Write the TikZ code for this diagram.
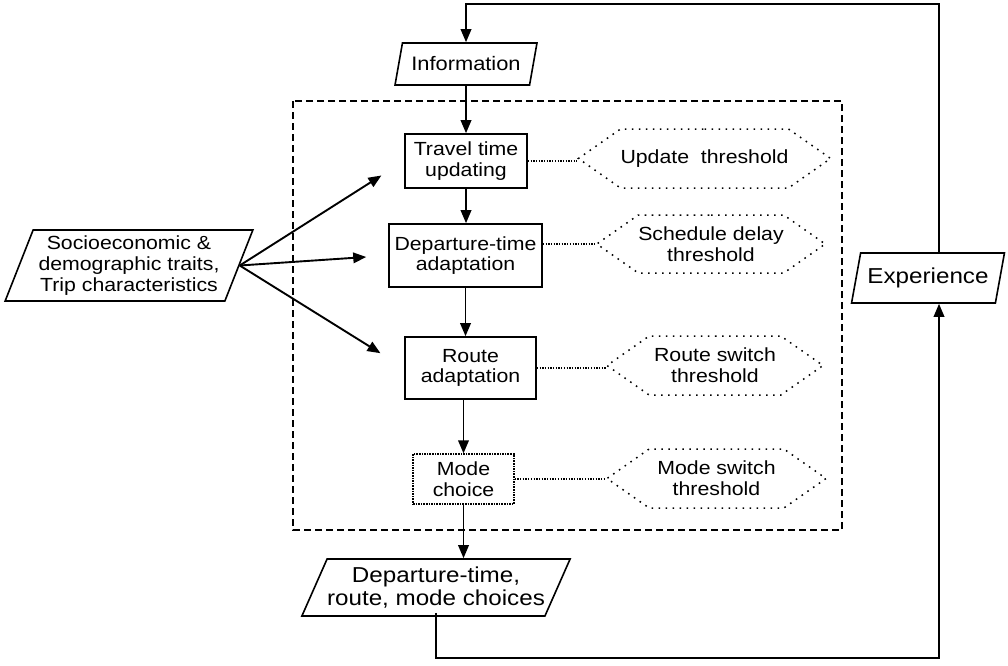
\documentclass[tikz,border=0pt]{standalone}
\usepackage{fontspec}
\setmainfont{Liberation Sans}[FakeStretch=1.12]
\usetikzlibrary{arrows.meta,shapes.geometric,shapes.symbols}
\begin{document}
\begin{tikzpicture}[x=1pt,y=-1pt,
  small/.style={font=\fontsize{19}{20.8}\selectfont},
  large/.style={font=\fontsize{21.6}{23.5}\selectfont},
  stepbox/.style={draw, line width=1.6pt, align=center, small, inner sep=0pt},
  para/.style={draw, line width=1.6pt, trapezium, trapezium stretches=true,
    align=center, inner sep=0pt},
  thresh/.style={signal, signal to=west and east, signal pointer angle=70,
    draw, line width=1.5pt, dash pattern=on 1.6pt off 5.4pt, align=center,
    small, inner sep=0pt},
  link/.style={line width=1.6pt, dash pattern=on 1.3pt off 1.4pt},
  arr/.style={line width=1.9pt, -{Triangle[length=13pt,width=10.5pt]}},
]
\useasboundingbox (0,0) rectangle (1008,665);

% dashed frame round the adaptation steps
\draw[line width=1.5pt, dash pattern=on 7pt off 4pt] (293,101) rectangle (842,530);

% input / output parallelograms
\node[para, small, trapezium left angle=66, trapezium right angle=114,
  minimum width=142, minimum height=42, font=\fontsize{19.5}{21}\selectfont]
  (info) at (466,64) {Information};
\node[para, small, trapezium left angle=66, trapezium right angle=114,
  minimum width=248, minimum height=71] (socio) at (129,265.5)
  {Socioeconomic \&\\demographic traits,\\Trip characteristics};
\node[para, large, trapezium left angle=59, trapezium right angle=121,
  minimum width=224, minimum height=57] (choices) at (436,587.5)
  {Departure-time,\\route, mode choices};
\node[para, large, trapezium left angle=68, trapezium right angle=112,
  minimum width=153, minimum height=50] (exp) at (928,278) {Experience};

% decision steps
\node[stepbox, minimum width=122, minimum height=54] (travel) at (466,161)
  {Travel time\\updating};
\node[stepbox, minimum width=153, minimum height=63] (dep) at (465.5,255.5)
  {Departure-time\\adaptation};
\node[stepbox, minimum width=131, minimum height=62] (route) at (470.5,368)
  {Route\\adaptation};
\node[stepbox, densely dotted, line width=1.2pt, minimum width=101, minimum height=50]
  (mode) at (463.5,479) {Mode\\choice};

% thresholds
\node[thresh, minimum width=215, minimum height=59] (upd) at (704.5,158.5)
  {Update~~threshold};
\node[thresh, minimum width=216, minimum height=58] (sched) at (711,244)
  {Schedule delay\\threshold};
\node[thresh, minimum width=216, minimum height=59] (rsw) at (715,365.5)
  {Route switch\\threshold};
\node[thresh, minimum width=219, minimum height=59] (msw) at (716.5,478.5)
  {Mode switch\\threshold};

% step to threshold links
\draw[link] (travel.east) -- (travel.east -| upd.west);
\draw[link] (sched.west -| dep.east) -- (sched.west);
\draw[link] (route.east) -- (route.east -| rsw.west);
\draw[link] (mode.east) -- (mode.east -| msw.west);

% main flow
\draw[arr] (info.south) -- (travel.north);
\draw[arr] (travel.south) -- (dep.north -| travel.south);
\draw[arr] (dep.south) -- (route.north -| dep.south);
\draw[arr] (route.south -| mode.north) -- (mode.north);
\draw[arr] (mode.south) -- (mode.south |- choices.north);

% personal attributes
\draw[arr, shorten >=27pt] (socio.east) -- (travel.west);
\draw[arr, shorten >=22pt] (socio.east) -- (dep.west);
\draw[arr, shorten >=28pt] (socio.east) -- (route.west);

% feedback loop
\coordinate (loopTop) at (939,4);
\coordinate (loopBot) at (939,658);
\draw[arr] (exp.north -| loopTop) -- (loopTop) -| (info.north);
\draw[arr] ([yshift=4pt]choices.south) |- (loopBot) -- (exp.south -| loopBot);
\end{tikzpicture}
\end{document}
